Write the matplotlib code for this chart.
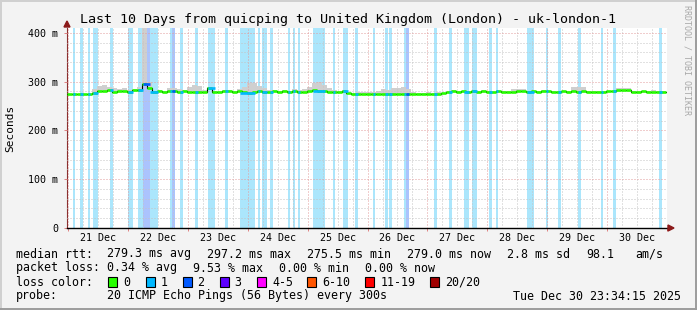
import matplotlib
matplotlib.use('Agg')
import matplotlib.pyplot as plt
from matplotlib.patches import Rectangle, Polygon

# ---------------- data ----------------
t_start = -0.43          # hours relative to 21 Dec 00:00 (left edge of graph)
step_h = 2.0             # one sample = 2 hours
t_end = 239.57

median_ms = [
    275.5, 275.5, 275.5, 275.5, 275.5, 276, 281, 280, 282, 279,
    280, 281, 279, 282, 283, 296, 288, 279, 280, 279,
    281, 280, 278, 281, 279, 278, 279, 279, 287, 278,
    279, 280, 280, 279, 280, 278, 277, 279, 280, 279,
    278, 280, 279, 280, 278, 281, 279, 279, 280, 282,
    281, 280, 279, 279, 279, 280, 276, 275.5, 275.5, 275.5,
    275.5, 275.5, 275.5, 275.5, 275.5, 275.5, 275.5, 275.5, 275.5, 275.5,
    275.5, 275.5, 275.5, 275.5, 275.5, 276, 279, 281, 279, 280,
    278, 280, 279, 281, 279, 278, 280, 279, 279, 278,
    281, 280, 279, 280, 279, 281, 280, 279, 279, 280,
    279, 280, 279, 281, 279, 279, 279, 279, 280, 280,
    283, 282, 283, 279, 279, 280, 279, 279, 279, 279,
]

smoke_top_ms = [
    275.5, 275.5, 275.5, 275.5, 275.5, 284, 292, 294, 290, 286,
    284, 288, 282, 284, 290, 420, 300, 281, 282, 281,
    286, 287, 285, 283, 290, 293, 291, 282, 290, 280,
    281, 282, 282, 281, 284, 290, 297, 298, 292, 288,
    283, 282, 281, 282, 281, 284, 283, 284, 290, 298,
    300, 294, 288, 282, 281, 282, 277, 277, 278, 278,
    279, 278, 280, 284, 282, 286, 288, 290, 284, 278,
    277, 277, 278, 277, 278, 277, 280, 282, 280, 281,
    279, 281, 280, 282, 280, 279, 281, 280, 280, 285,
    285, 285, 280, 281, 280, 282, 281, 280, 280, 281,
    280, 290, 290, 290, 280, 280, 280, 280, 281, 281,
    288, 288, 288, 280, 280, 281, 280, 283, 280, 280,
]

# packet-loss periods: (start hour, end hour, lost pings of 20)
loss_bands = [
    (2.0, 2.8, 1), (4.8, 6.0, 1), (8.0, 8.8, 1), (10.0, 12.0, 1),
    (16.8, 18.0, 1), (24.0, 26.0, 1), (28.0, 30.0, 1), (30.0, 32.8, 2),
    (32.8, 36.0, 1), (40.8, 41.6, 1), (41.6, 42.8, 2), (44.8, 46.0, 1),
    (50.8, 52.0, 1), (56.0, 58.8, 1), (62.8, 64.0, 1), (68.8, 74.8, 1),
    (76.0, 76.8, 1), (77.6, 79.6, 1), (80.8, 82.0, 1), (88.0, 88.8, 1),
    (90.0, 90.8, 1), (92.0, 92.8, 1), (98.0, 102.8, 1), (106.0, 106.8, 1),
    (110.0, 112.0, 1), (114.8, 116.0, 1), (122.0, 122.8, 1), (126.8, 128.0, 1),
    (128.8, 130.0, 1), (134.8, 135.6, 1), (135.6, 136.8, 2), (146.8, 148.0, 1),
    (152.8, 154.0, 1), (158.8, 160.8, 1), (162.0, 164.0, 1), (168.8, 170.0, 1),
    (171.6, 172.4, 1), (184.0, 186.8, 1), (191.6, 192.4, 1), (196.4, 197.6, 1),
    (204.4, 205.6, 1), (213.6, 214.4, 1), (218.4, 219.6, 1), (236.8, 238.0, 1),
]

day_labels = ['21 Dec', '22 Dec', '23 Dec', '24 Dec', '25 Dec',
              '26 Dec', '27 Dec', '28 Dec', '29 Dec', '30 Dec']
y_ticks = [0, 100, 200, 300, 400]
y_tick_labels = ['0', '100 m', '200 m', '300 m', '400 m']

loss_legend_labels = ['0', '1', '2', '3', '4-5', '6-10', '11-19', '20/20']
loss_legend_colors = ['#26ff00', '#00b8ff', '#0059ff', '#5e00ff',
                      '#ff00ff', '#ff5500', '#ff0000', '#a00000']
band_colors = {1: '#abe6fc', 2: '#abc3fd'}
line_colors = {0: '#26ff00', 1: '#00b8ff', 2: '#0059ff'}

title = 'Last 10 Days from quicping to United Kingdom (London) - uk-london-1'

# ---------------- figure ----------------
W, H = 697, 310
MONO = 'DejaVu Sans Mono'
fig = plt.figure(figsize=(W / 100, H / 100), dpi=100, facecolor='#f3f3f3')


def fx(x):
    return x / W


def fy(y):
    return 1 - y / H


ax = fig.add_axes([fx(67), fy(228), 600 / W, 200 / H])
ax.set_facecolor('white')
ax.set_xlim(t_start, t_end)
ax.set_ylim(0, 410)

# loss backgrounds
for s, e, l in loss_bands:
    ax.axvspan(s, e, color=band_colors[l], lw=0, zorder=1)

# time of samples
n = len(median_ms)
t_edges = [t_start + step_h * i for i in range(n + 1)]

# smoke
ax.fill_between(t_edges, median_ms + [median_ms[-1]], smoke_top_ms + [smoke_top_ms[-1]],
                step='post', color='#cfcfcf', lw=0, zorder=2)

# grid
for h in range(6, 240, 6):
    if h % 24:
        ax.axvline(h, color='#c4c4c4', lw=0.72, ls=(0, (1, 2)), zorder=3)
for h in range(0, 241, 24):
    ax.axvline(h, color='#e29c9c', lw=0.72, ls=(0, (1, 2)), zorder=3)
for v in range(20, 410, 20):
    if v % 100:
        ax.axhline(v, color='#c4c4c4', lw=0.72, ls=(0, (1, 2)), zorder=3)
    else:
        ax.axhline(v, color='#e29c9c', lw=0.72, ls=(0, (1, 2)), zorder=3)

# median: black step + colored segments
ax.step(t_edges, median_ms + [median_ms[-1]], where='post', color='black', lw=0.8, zorder=4)
ax.hlines(median_ms, t_edges[:-1], t_edges[1:], color=line_colors[0], lw=1.9, zorder=5)
for s, e, l in loss_bands:
    idx = min(int((0.5 * (s + e) - t_start) // step_h), n - 1)
    ax.hlines(median_ms[idx], s, e, color=line_colors[l], lw=1.9, zorder=6)

# axes styling
for side in ['top', 'right']:
    ax.spines[side].set_visible(False)
ax.spines['bottom'].set_color('black')
ax.spines['bottom'].set_linewidth(1.0)
ax.spines['left'].set_color('#8b3030')
ax.spines['left'].set_linewidth(0.8)

ax.set_xticks(range(0, 241, 24))
ax.set_xticklabels([])
ax.tick_params(axis='x', which='major', length=2, color='#e08080', width=0.7)
ax.set_xticks([12 + 24 * i for i in range(len(day_labels))], minor=True)
ax.set_xticklabels(day_labels, minor=True, fontsize=7.2, family=MONO)
ax.tick_params(axis='x', which='minor', length=0, pad=3.5)

ax.set_yticks(y_ticks)
ax.set_yticklabels(y_tick_labels, fontsize=7.2, family=MONO)
ax.tick_params(axis='y', length=2, color='#e08080', width=0.7, pad=4.5)

# arrows
fig.patches.append(Polygon([(fx(668), fy(225)), (fx(668), fy(231)), (fx(674), fy(228))],
                           closed=True, transform=fig.transFigure, color='#8b1a1a'))
fig.patches.append(Polygon([(fx(64), fy(27)), (fx(70), fy(27)), (fx(67), fy(21))],
                           closed=True, transform=fig.transFigure, color='#8b1a1a'))

# border
fig.add_artist(plt.Line2D([fx(0), fx(697)], [fy(0.7), fy(0.7)], color='#d0d0d0', lw=1.4, transform=fig.transFigure))
fig.add_artist(plt.Line2D([fx(0.7), fx(0.7)], [fy(0), fy(310)], color='#d0d0d0', lw=1.4, transform=fig.transFigure))
fig.add_artist(plt.Line2D([fx(0), fx(697)], [fy(309), fy(309)], color='#9c9c9c', lw=1.4, transform=fig.transFigure))
fig.add_artist(plt.Line2D([fx(696), fx(696)], [fy(0), fy(310)], color='#9c9c9c', lw=1.4, transform=fig.transFigure))

# texts
fig.text(0.5, fy(19), title, ha='center', va='center', fontsize=9.6, family=MONO)
fig.text(fx(10), fy(128), 'Seconds', rotation=90, ha='center', va='center', fontsize=8, family=MONO)
fig.text(fx(687), fy(5), 'RRDTOOL / TOBI OETIKER', rotation=270, ha='center', va='top',
         fontsize=6, family=MONO, color='#a8a8a8')

LS = 8.4
rows = [
    (254, [(16, 'median rtt:'), (107, '279.3 ms avg'), (207, '297.2 ms max'),
           (307, '275.5 ms min'), (407, '279.0 ms now'), (507, '2.8 ms sd'),
           (586, '98.1'), (635, 'am/s')]),
    (268, [(16, 'packet loss:'), (107, '0.34 % avg'), (193, '9.53 % max'),
           (279, '0.00 % min'), (365, '0.00 % now')]),
    (296, [(16, 'probe:'), (107, '20 ICMP Echo Pings (56 Bytes) every 300s')]),
]
for y, items in rows:
    for x, s in items:
        fig.text(fx(x), fy(y), s, ha='left', va='center', fontsize=LS, family=MONO)
fig.text(fx(681), fy(296), 'Tue Dec 30 23:34:15 2025', ha='right', va='center', fontsize=LS, family=MONO)

fig.text(fx(16), fy(282), 'loss color:', ha='left', va='center', fontsize=LS, family=MONO)
box_x = [108, 146, 183, 220, 257, 307, 365, 430]
lab_x = [123, 161, 197, 234, 272, 322, 381, 445]
for bx, lx, lab, col in zip(box_x, lab_x, loss_legend_labels, loss_legend_colors):
    fig.patches.append(Rectangle((fx(bx), fy(287)), 9 / W, 10 / H, transform=fig.transFigure,
                                 facecolor=col, edgecolor='black', lw=0.8))
    fig.text(fx(lx), fy(282), lab, ha='left', va='center', fontsize=LS, family=MONO)

fig.savefig('out.png', dpi=100, facecolor=fig.get_facecolor())
